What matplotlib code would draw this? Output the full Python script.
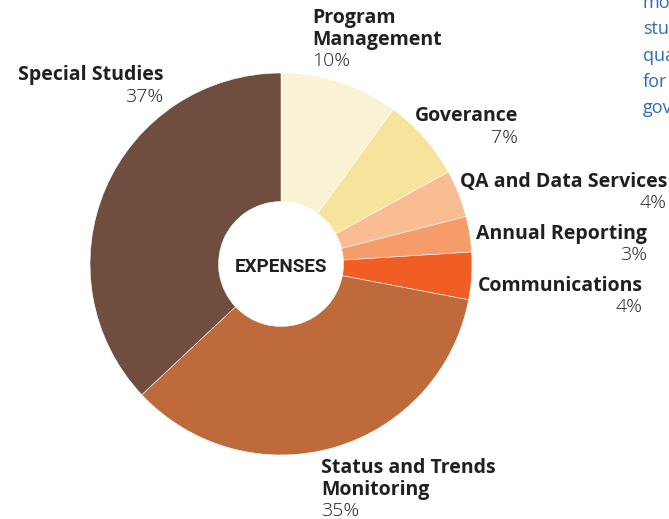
import matplotlib
matplotlib.use("Agg")
import matplotlib.pyplot as plt

categories = ["Program\nManagement", "Goverance", "QA and Data Services", "Annual Reporting",
              "Communications", "Status and Trends\nMonitoring", "Special Studies"]
values = [10, 7, 4, 3, 4, 35, 37]
pct_labels = ["10%", "7%", "4%", "3%", "4%", "35%", "37%"]
colors = ["#FAF2D5", "#F6E49C", "#F9BC93", "#F69C6B", "#F15E24", "#BF6A3B", "#6F4E3F"]
side_text = ["more", "studies", "quality", "for", "governance"]

W, H = 669, 519
fig = plt.figure(figsize=(W / 100, H / 100), dpi=100)
fig.patch.set_facecolor("white")

cx, cy, r = 281, 264, 191
ax = fig.add_axes([(cx - r) / W, (H - cy - r) / H, 2 * r / W, 2 * r / H])
ax.pie(values, colors=colors, startangle=90, counterclock=False, radius=1,
       wedgeprops=dict(width=1 - 0.327, edgecolor="white", linewidth=0.4))
ax.set_xlim(-1, 1)
ax.set_ylim(-1, 1)
ax.set_aspect("auto")
ax.axis("off")
ax.text(0, -0.015, "EXPENSES", ha="center", va="center", fontsize=13.5, fontweight="bold",
        family=["Roboto", "DejaVu Sans"], color="#231f20")

bold = dict(family=["Open Sans", "DejaVu Sans"], fontweight="bold", fontsize=14, color="#231f20")
light = dict(family=["Open Sans", "DejaVu Sans"], fontweight="light", fontsize=14, color="#231f20")

def px(x, y):
    return x / W, 1 - y / H

# (x, y of first line centre, ha)
label_pos = [
    (312, 18, "left"),
    (518, 116, "right"),
    (667, 182, "right"),
    (647, 234, "right"),
    (643, 286, "right"),
    (321, 468, "left"),
    (163, 75, "right"),
]
lh = 21.5
for cat, pct, (x, y, ha) in zip(categories, pct_labels, label_pos):
    lines = cat.split("\n")
    for i, ln in enumerate(lines):
        fig.text(*px(x, y + i * lh), ln, ha=ha, va="center", **bold)
    fig.text(*px(x, y + len(lines) * lh), pct, ha=ha, va="center", **light)

for i, t in enumerate(side_text):
    fig.text(*px(643, 3 + i * 26.3), t, ha="left", va="center", fontsize=13,
             family=["Open Sans", "DejaVu Sans"], color="#2E6DB4")

fig.savefig("out.png", dpi=100)
